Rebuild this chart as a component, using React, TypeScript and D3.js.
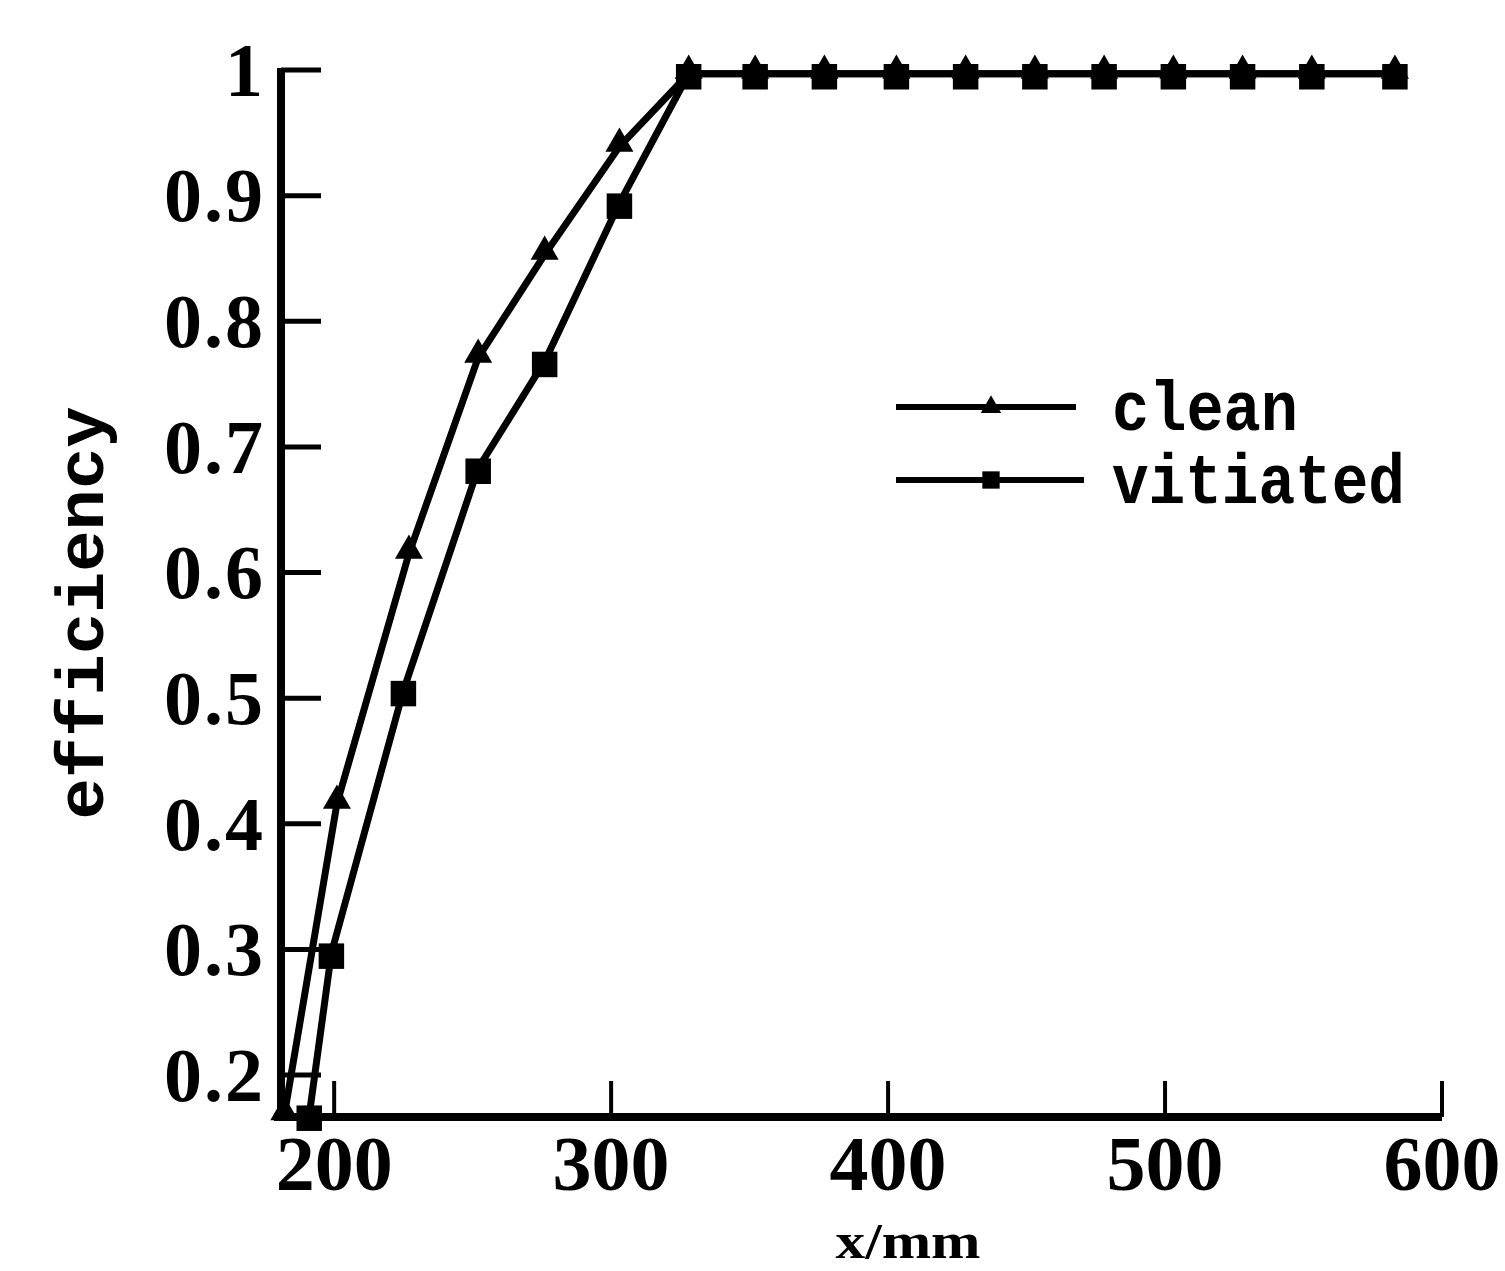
import React from "react";
import * as d3 from "d3";

// values
const cleanX = [182, 201, 227, 252, 276, 303, 328, 352, 377, 403, 428, 453, 478, 503, 528, 553, 583];
const cleanY = [0.168, 0.416, 0.615, 0.771, 0.853, 0.939, 0.997, 0.997, 0.997, 0.997, 0.997, 0.997, 0.997, 0.997, 0.997, 0.997, 0.997];
const vitiatedX = [191, 199, 225, 252, 276, 303, 328, 352, 377, 403, 428, 453, 478, 503, 528, 553, 583];
const vitiatedY = [0.168, 0.297, 0.506, 0.683, 0.768, 0.894, 0.997, 0.997, 0.997, 0.997, 0.997, 0.997, 0.997, 0.997, 0.997, 0.997, 0.997];
const xTicks = [200, 300, 400, 500, 600];
const yTicks = [0.2, 0.3, 0.4, 0.5, 0.6, 0.7, 0.8, 0.9, 1];
const seriesNames = ["clean", "vitiated"];

const W = 1505;
const H = 1271;

const x = d3.scaleLinear().domain([179, 600]).range([276, 1442]);
const y = d3.scaleLinear().domain([0.2, 1]).range([1075, 70]);
const yMin = 0.1666;

const serif = "'Liberation Serif', 'Times New Roman', serif";
const mono = "'Liberation Mono', 'DejaVu Sans Mono', monospace";

const tri = d3.symbol().type(d3.symbolTriangle).size(340);
const sq = d3.symbol().type(d3.symbolSquare).size(650);
const triSmall = d3.symbol().type(d3.symbolTriangle).size(180);
const sqSmall = d3.symbol().type(d3.symbolSquare).size(300);

export default function App() {
  const clean = cleanX.map((v, i) => [v, cleanY[i]] as [number, number]);
  const vit = vitiatedX.map((v, i) => [v, vitiatedY[i]] as [number, number]);
  const line = d3
    .line<[number, number]>()
    .x((d) => x(d[0]))
    .y((d) => y(d[1]));

  const axisY = y(yMin);
  const axisX = x(179) + 5;

  return (
    <svg
      width={W}
      height={H}
      style={{ position: "absolute", left: 0, top: 0, background: "#fff" }}
    >
      <rect width={W} height={H} fill="#fff" />

      {/* axes */}
      <line x1={axisX} y1={y(1) - 2} x2={axisX} y2={axisY} stroke="#000" strokeWidth={8} />
      <line x1={x(179) - 2} y1={axisY} x2={x(600)} y2={axisY} stroke="#000" strokeWidth={8} />

      {yTicks.map((t) => (
        <g key={t}>
          <line x1={axisX} x2={axisX + 40} y1={y(t)} y2={y(t)} stroke="#000" strokeWidth={5} />
          <text
            x={axisX - 16}
            y={y(t)}
            dy="0.34em"
            textAnchor="end"
            fontFamily={serif}
            fontWeight="bold"
            fontSize={76}
            letterSpacing={2}
          >
            {t === 1 ? "1" : d3.format(".1f")(t)}
          </text>
        </g>
      ))}

      {xTicks.map((t) => (
        <g key={t}>
          <line x1={x(t)} x2={x(t)} y1={axisY} y2={axisY - 36} stroke="#000" strokeWidth={4} />
          <text
            x={x(t)}
            y={1190}
            textAnchor="middle"
            fontFamily={serif}
            fontWeight="bold"
            fontSize={78}
          >
            {t}
          </text>
        </g>
      ))}

      {/* axis titles */}
      <text
        transform={`translate(103, 613) rotate(-90)`}
        textAnchor="middle"
        fontFamily={mono}
        fontWeight="bold"
        fontSize={66}
        textLength={413}
        lengthAdjust="spacingAndGlyphs"
      >
        efficiency
      </text>
      <text
        x={908}
        y={1258}
        textAnchor="middle"
        fontFamily={serif}
        fontWeight="bold"
        fontSize={50}
        textLength={145}
        lengthAdjust="spacingAndGlyphs"
      >
        x/mm
      </text>

      {/* series */}
      <path d={line(vit) || ""} fill="none" stroke="#000" strokeWidth={7} strokeLinejoin="round" />
      <path d={line(clean) || ""} fill="none" stroke="#000" strokeWidth={7} strokeLinejoin="round" />
      {vit.map((d, i) => (
        <path key={"v" + i} d={sq() || ""} transform={`translate(${x(d[0])},${y(d[1]) + 3})`} fill="#000" />
      ))}
      {clean.map((d, i) => (
        <path key={"c" + i} d={tri() || ""} transform={`translate(${x(d[0])},${y(d[1]) - 3})`} fill="#000" />
      ))}

      {/* legend */}
      {seriesNames.map((name, i) => {
        const ly = i === 0 ? 407 : 480;
        const x2 = i === 0 ? 1076 : 1084;
        return (
          <g key={name}>
            <line x1={896} x2={x2} y1={ly} y2={ly} stroke="#000" strokeWidth={6} />
            <path
              d={(i === 0 ? triSmall() : sqSmall()) || ""}
              transform={`translate(991,${ly})`}
              fill="#000"
            />
            <text
              x={1112}
              y={i === 0 ? 430 : 503}
              fontFamily={mono}
              fontWeight="bold"
              fontSize={70}
              textLength={i === 0 ? 186 : 293}
              lengthAdjust="spacingAndGlyphs"
            >
              {name}
            </text>
          </g>
        );
      })}
    </svg>
  );
}
